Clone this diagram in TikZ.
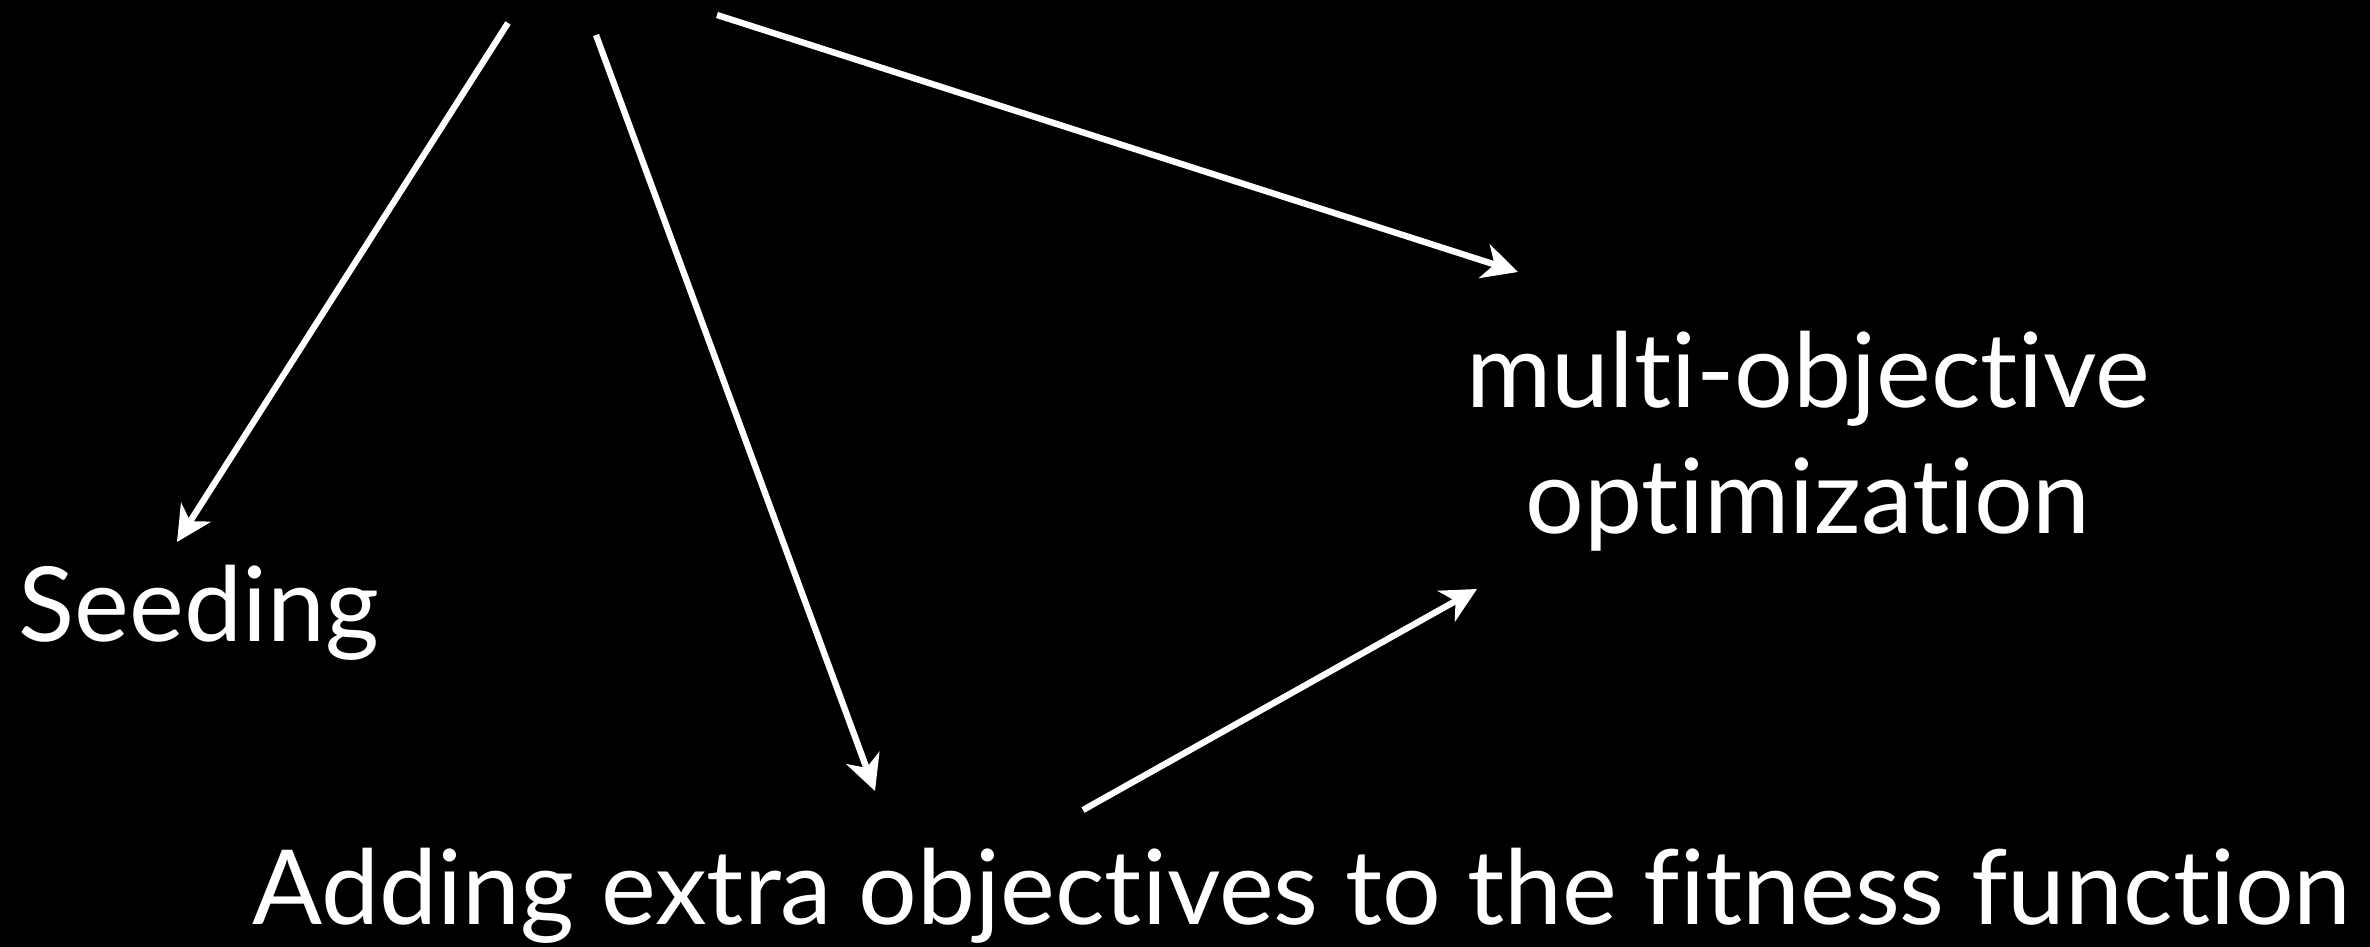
\documentclass[tikz,border=0pt]{standalone}
\usepackage{fontspec}
\setmainfont{Lato}[Ligatures={NoCommon}]
\usetikzlibrary{arrows.meta}
\tikzset{
  lbl/.style={text=white, font=\fontsize{29.5}{36}\selectfont, inner sep=0pt},
  arr/.style={draw=white, line width=1.8pt, -{Stealth[length=10pt,width=10pt,inset=3pt]}}
}
\begin{document}
\begin{tikzpicture}
    % Background
    \fill[black] (0,0) rectangle (23.70,9.47);
    \useasboundingbox (0,0) rectangle (23.70,9.47);

    % Nodes
    \node[lbl, anchor=base west] (seed) at (0.18,3.05) {Seeding};
    \node[lbl, align=center] (multi) at (18.08,5.06) {multi-objective\\optimization};
    \node[lbl, anchor=base west] (extra) at (2.52,0.22) {Adding extra objectives to the fitness function};

    % Arrow ends
    \coordinate (src1) at (5.08,9.24);
    \coordinate (src2) at (5.96,9.12);
    \coordinate (src3) at (7.17,9.32);
    \coordinate (src4) at (10.83,1.37);
    \coordinate (seedtip) at (1.77,4.05);
    \coordinate (extratip) at (8.75,1.56);
    \coordinate (multitip1) at (15.18,6.75);
    \coordinate (multitip2) at (14.77,3.58);

    % Arrows
    \draw[arr] (src1) -- (seedtip);
    \draw[arr] (src2) -- (extratip);
    \draw[arr] (src3) -- (multitip1);
    \draw[arr] (src4) -- (multitip2);
\end{tikzpicture}
\end{document}
